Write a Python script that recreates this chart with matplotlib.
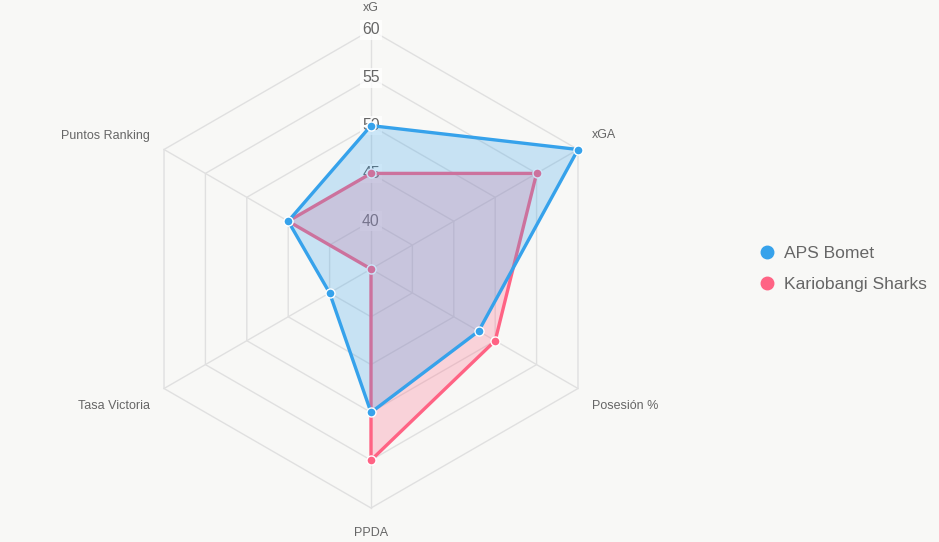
import numpy as np
import matplotlib.pyplot as plt
from matplotlib.lines import Line2D

labels = ["xG", "xGA", "Posesión %", "PPDA", "Tasa Victoria", "Puntos Ranking"]
aps_bomet = [50, 60, 48, 50, 40, 45]
kariobangi = [45, 55, 50, 55, 35, 45]
ticks = [40, 45, 50, 55, 60]
r_min, r_max = 35, 60

blue = "#36a2eb"
pink = "#ff6384"
bg = "#f8f8f6"
grid_c = "#e0e0e0"
txt_c = "#666666"

plt.rcParams['font.family'] = ['Liberation Sans', 'DejaVu Sans']

fig = plt.figure(figsize=(9.39, 5.42), dpi=100, facecolor=bg)
W, H = 939, 542
cx, cy, rad = 371, 269, 239
ax = fig.add_axes([(cx - rad) / W, (H - cy - rad) / H, 2 * rad / W, 2 * rad / H],
                  projection="polar")
ax.set_theta_zero_location("N")
ax.set_theta_direction(-1)
ax.set_ylim(r_min, r_max)
ax.set_axis_off()

n = len(labels)
theta = np.arange(n) * 2 * np.pi / n
th_closed = np.append(theta, theta[0])

# polygon grid
for t in ticks:
    ax.plot(th_closed, [t] * (n + 1), color=grid_c, lw=1, zorder=1, clip_on=False)
for th in theta:
    ax.plot([th, th], [r_min, r_max], color=grid_c, lw=1, zorder=1, clip_on=False)

# tick labels
for t in ticks:
    ax.text(0, t, str(t), ha="center", va="center", fontsize=11.3, color=txt_c, zorder=2,
            bbox=dict(boxstyle="square,pad=0.15", fc="white", ec="none", alpha=0.75))

# point labels
offsets = [(0, 22, "center"), (14, 15, "left"), (14, -18, "left"),
           (0, -25, "center"), (-14, -17, "right"), (-14, 14, "right")]
for lab, th, (dx, dy, ha) in zip(labels, theta, offsets):
    ax.annotate(lab, xy=(th, r_max), xytext=(dx, dy), textcoords="offset pixels",
                ha=ha, va="center", fontsize=9, color=txt_c, annotation_clip=False)

# datasets (second drawn first, first on top)
for vals, col, z in [(kariobangi, pink, 3), (aps_bomet, blue, 5)]:
    v = np.append(vals, vals[0])
    ax.fill(th_closed, v, color=col, alpha=0.25, lw=0, zorder=z, clip_on=False)
    ax.plot(th_closed, v, color=col, lw=2.4, zorder=z + 0.5, clip_on=False,
            solid_joinstyle="miter")
    ax.plot(theta, vals, "o", ms=6.5, mfc=col, mec="white", mew=1, zorder=z + 0.7,
            clip_on=False)

handles = [Line2D([], [], ls="none", marker="o", ms=9, mfc=blue, mec=blue, label="APS Bomet"),
           Line2D([], [], ls="none", marker="o", ms=9, mfc=pink, mec=pink, label="Kariobangi Sharks")]
fig.legend(handles=handles, loc="center left", bbox_to_anchor=(742 / W, 1 - 269 / H),
           frameon=False, fontsize=12.6, labelcolor=txt_c, handlelength=1.0,
           handletextpad=0.5, labelspacing=0.9)

fig.savefig("out.png", dpi=100, facecolor=bg)
